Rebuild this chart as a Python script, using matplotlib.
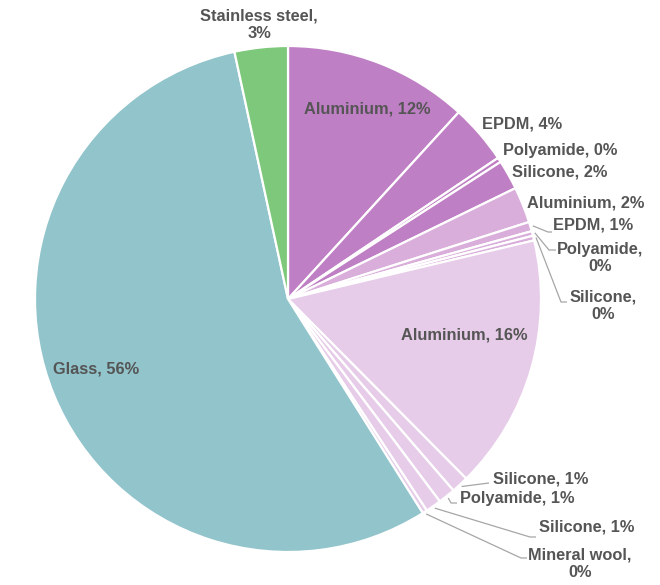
import matplotlib
matplotlib.use("Agg")
import matplotlib.pyplot as plt
import numpy as np

# Material shares of the component (percent), clockwise from 12 o'clock
materials = ["Aluminium", "EPDM", "Polyamide", "Silicone",
             "Aluminium", "EPDM", "Polyamide", "Silicone",
             "Aluminium", "Silicone", "Polyamide", "Silicone",
             "Mineral wool", "Glass", "Stainless steel"]
shares = [11.8, 3.8, 0.3, 1.9,
          2.3, 0.6, 0.3, 0.3,
          16.3, 1.1, 1.1, 1.0,
          0.3, 55.6, 3.4]
groups = ["frame", "frame", "frame", "frame",
          "sash", "sash", "sash", "sash",
          "spacer", "spacer", "spacer", "spacer",
          "spacer", "glass", "steel"]

group_colors = {"frame": "#BF7FC4", "sash": "#D9AEDB", "spacer": "#E6CCE8",
                "glass": "#92C4CC", "steel": "#7DC87A"}

# Figure geometry in pixels
W, H = 660, 585
CX, CY, R = 288, 299, 253


def to_data(px, py):
    return (px - CX) / R, (CY - py) / R


fig = plt.figure(figsize=(W / 100, H / 100), dpi=100)
ax = fig.add_axes([0, 0, 1, 1])

wedges, _ = ax.pie(shares, colors=[group_colors[g] for g in groups],
                   startangle=90, counterclock=False, radius=1.0,
                   wedgeprops=dict(edgecolor="white", linewidth=1.6))

ax.set_xlim(-CX / R, (W - CX) / R)
ax.set_ylim(-(H - CY) / R, CY / R)
ax.set_aspect("auto")
ax.axis("off")

TEXT = "#555555"
LEAD = "#A6A6A6"
font = dict(family="Liberation Sans", fontweight="bold", fontsize=11.8,
            color=TEXT)

# label layout: (text x px, text y px, ha, line break, leader elbow px or None)
layout = [
    (367, 109, "center", False, None),
    (522, 124, "center", False, None),
    (560, 150, "center", False, None),
    (560, 172, "center", False, None),
    (586, 203, "center", False, None),
    (553, 225, "left", False, [(548, 232), (552, 232)]),
    (600, 258, "center", True, [(549, 250), (556, 250)]),
    (603, 306, "center", True, [(561, 302), (567, 302)]),
    (464, 335, "center", False, None),
    (493, 479, "left", False, [(489, 483)]),
    (460, 498, "left", False, [(451, 503), (457, 503)]),
    (539, 527, "left", False, [(530, 537), (536, 537)]),
    (580, 564, "center", True, [(521, 558), (527, 558)]),
    (96, 369, "center", False, None),
    (259, 25, "center", True, None),
]

for wedge, name, val, (tx, ty, ha, wrap, lead) in zip(wedges, materials,
                                                      shares, layout):
    sep = ",\n" if wrap else ", "
    label = f"{name}{sep}{round(val):.0f}%"
    x, y = to_data(tx, ty)
    ax.text(x, y, label, ha=ha, va="center", linespacing=1.2, **font)
    if lead:
        mid = np.deg2rad((wedge.theta1 + wedge.theta2) / 2)
        pts = [(np.cos(mid) * 1.01, np.sin(mid) * 1.01)]
        pts += [to_data(px, py) for px, py in lead]
        xs, ys = zip(*pts)
        ax.plot(xs, ys, color=LEAD, linewidth=0.9, solid_capstyle="butt")

fig.savefig("out.png", dpi=100, facecolor="white")
